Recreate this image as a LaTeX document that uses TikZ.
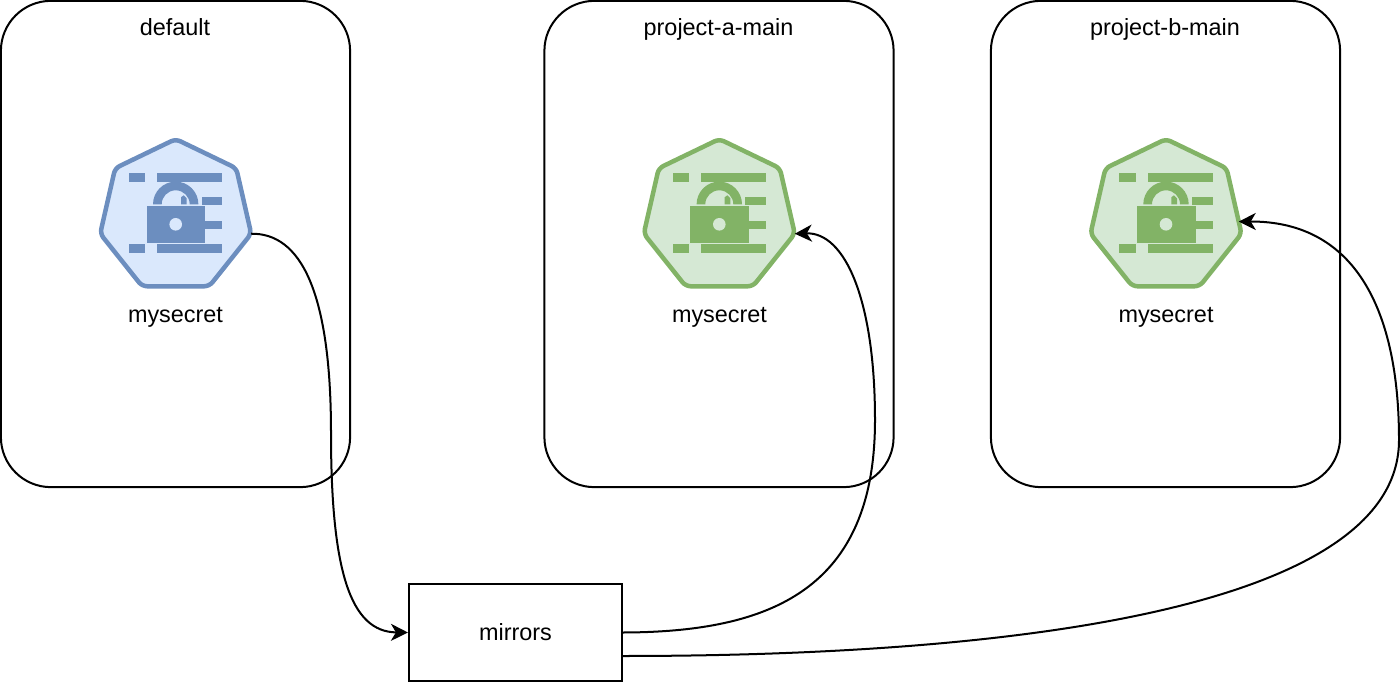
\documentclass[tikz,border=0pt]{standalone}
\usepackage{fontspec}
\setmainfont{Liberation Sans}
\usetikzlibrary{shapes.geometric, positioning, arrows.meta}
\definecolor{bluefill}{HTML}{DAE8FC}
\definecolor{blueline}{HTML}{6C8EBF}
\definecolor{greenfill}{HTML}{D5E8D4}
\definecolor{greenline}{HTML}{82B366}
\tikzset{
    nsbox/.style={draw=black, line width=0.02cm, rounded corners=0.5cm, minimum width=3.49cm, minimum height=4.86cm, inner sep=0},
    nstitle/.style={inner sep=0},
    secretname/.style={inner sep=0},
    secrethept/.style={regular polygon, regular polygon sides=7, minimum size=1.548cm, inner sep=0, outer sep=0, line width=0.045cm, rounded corners=0.05cm},
    link/.style={draw=black, line width=0.02cm, -{Stealth[length=0.17cm, width=0.17cm, inset=0.05cm]}},
    pics/secreticon/.style 2 args={code={
        \fill[#1] (-46.7,-51.3) rectangle (-30.4,-42.6);
        \fill[#1] (-18.4,-51.3) rectangle (46.6,-42.6);
        \fill[#1] (-46.7,19.7) rectangle (-30.4,28.4);
        \fill[#1] (-18.4,19.7) rectangle (46.6,28.4);
        \fill[#1] (26,-27.6) rectangle (46.6,-19);
        \fill[#1] (-22.7,-20) arc[start angle=180, end angle=360, radius=22.7] -- (14,-20) arc[start angle=360, end angle=180, radius=14] -- cycle;
        \fill[#1] (5.3,-20) -- (5.3,-27) -- (8,-29) -- (11,-26) -- (11,-20) -- cycle;
        \filldraw[fill=#1, draw=#2, line width=0.006cm] (-29.7,-19) rectangle (30,19);
        \fill[#1] (29,-3.6) rectangle (46.6,5);
        \fill[#2] (0,0) circle (6.3);
    }}
}
\begin{document}
\begin{tikzpicture}[x=0.01cm, y=-0.01cm, every node/.append style={font=\fontsize{6.66}{8}\selectfont}]
    \useasboundingbox (0,0) rectangle (1400,682);
    \node[nsbox] (default) at (175.5,244) {};
    \node[nsbox] (projecta) at (719,244) {};
    \node[nsbox] (projectb) at (1165.5,244) {};
    \node[nstitle] (defaulttitle) at (175,27) {default};
    \node[nstitle] (projectatitle) at (718.5,29) {project-a-main};
    \node[nstitle] (projectbtitle) at (1165,29) {project-b-main};

    \node[secrethept, draw=blueline, fill=bluefill] (secret) at (175.7,216.5) {};
    \node[secrethept, draw=greenline, fill=greenfill] (secreta) at (719.3,216.5) {};
    \node[secrethept, draw=greenline, fill=greenfill] (secretb) at (1166,216.5) {};
    \pic at (175.7,224.3) {secreticon={blueline}{bluefill}};
    \pic at (719.3,224.3) {secreticon={greenline}{greenfill}};
    \pic at (1166,224.3) {secreticon={greenline}{greenfill}};
    \node[secretname] (secretname) at (175.5,317) {mysecret};
    \node[secretname] (secretaname) at (719.5,317) {mysecret};
    \node[secretname] (secretbname) at (1166,317) {mysecret};

    \node[draw=black, line width=0.02cm, minimum width=2.13cm, minimum height=0.97cm, inner sep=0] (mirrors) at (515.5,632.5) {mirrors};
    \coordinate (mirrorslow) at (622,656);

    \draw[link] (secret.corner 6) .. controls (300,233) and (331,290) .. (331,433) .. controls (331,570) and (350,632) .. (mirrors.west);
    \draw[link] (mirrors.east) .. controls (770,632) and (875,590) .. (875,420) .. controls (875,300) and (845,232) .. (secreta.corner 6);
    \draw[link] (mirrorslow) .. controls (1050,656) and (1399,600) .. (1399,440) .. controls (1399,310) and (1355,221) .. (secretb.-4);
\end{tikzpicture}
\end{document}
